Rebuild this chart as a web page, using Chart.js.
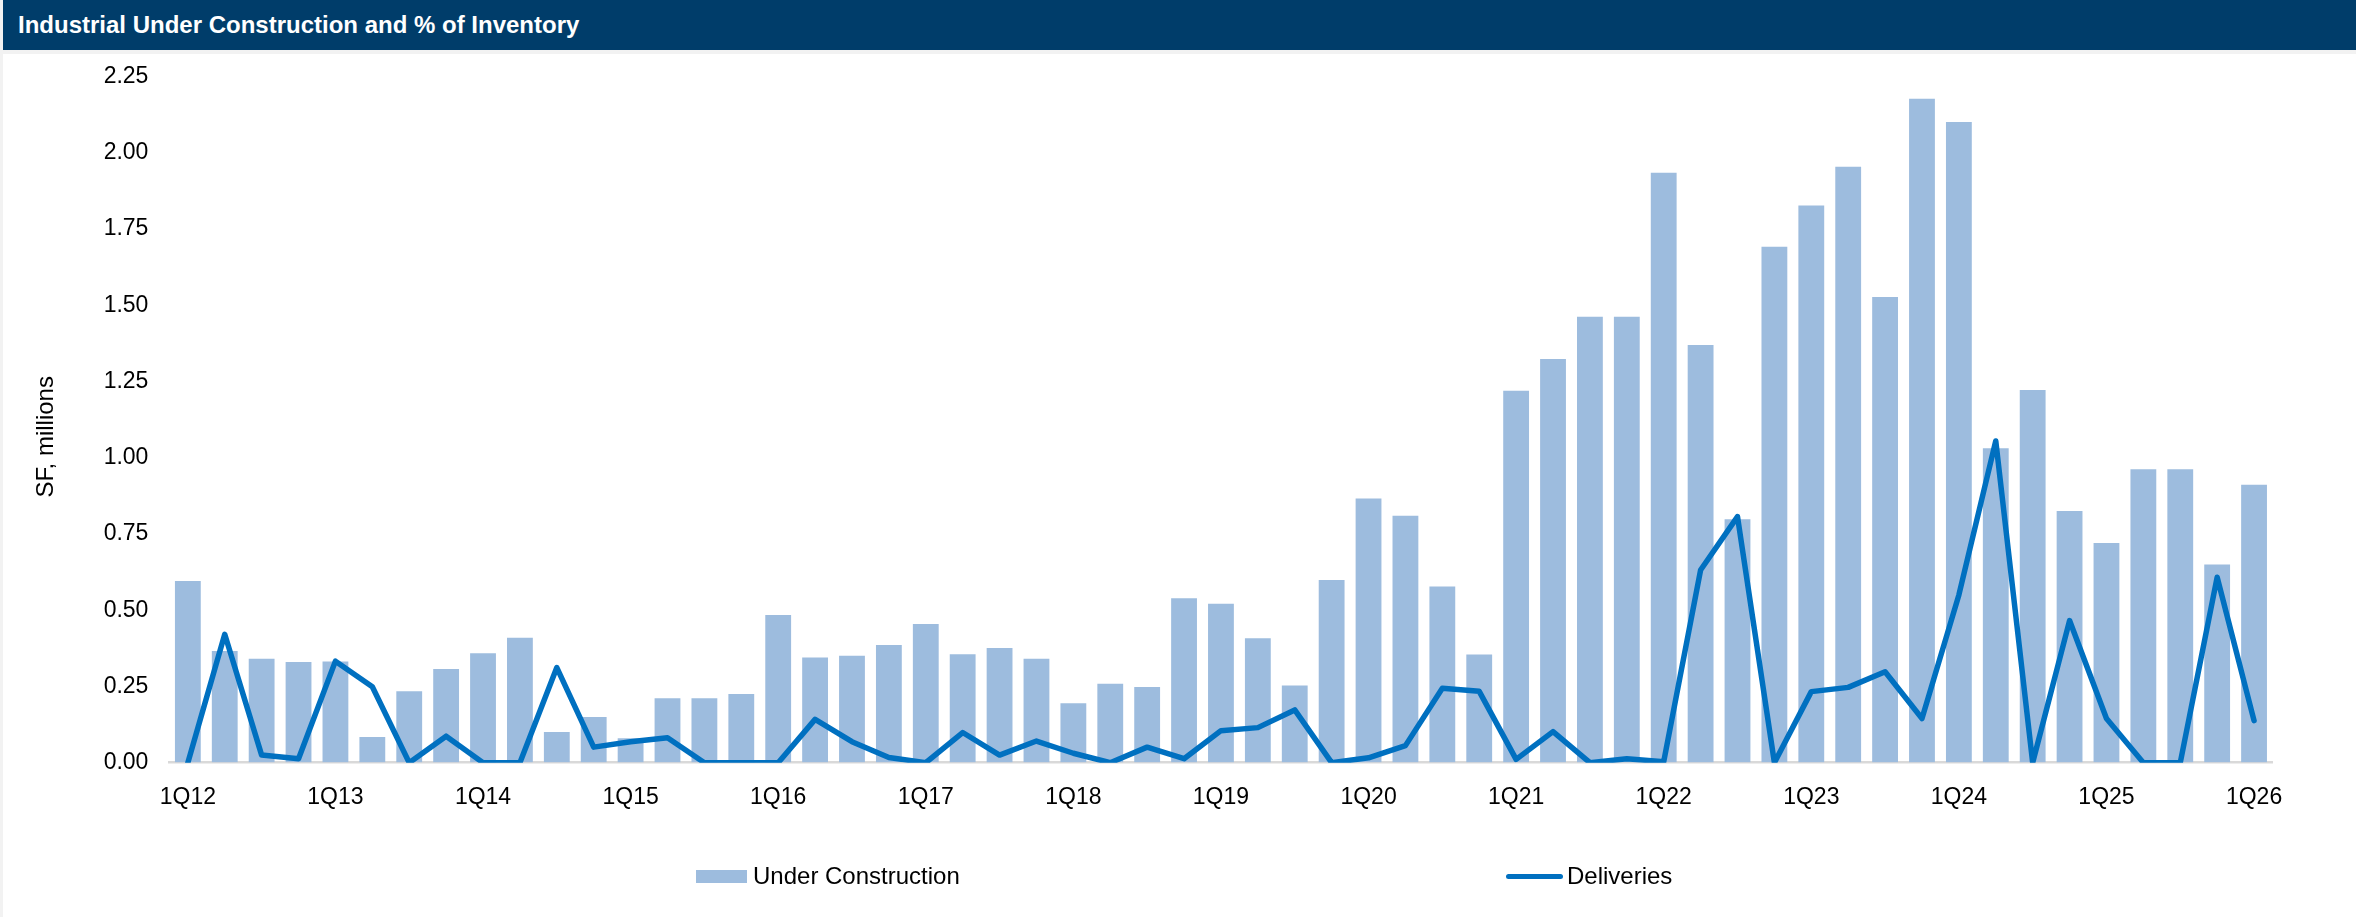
<!DOCTYPE html>
<html>
<head>
<meta charset="utf-8">
<title>Industrial Under Construction</title>
<script src="https://cdn.jsdelivr.net/npm/chart.js@4.4.1/dist/chart.umd.min.js"></script>
<style>
  html, body { margin: 0; padding: 0; }
  body {
    width: 2356px; height: 917px; background: #f2f2f2;
    position: relative; overflow: hidden;
    font-family: "Liberation Sans", Arial, sans-serif;
  }
  #header {
    position: absolute; left: 3px; top: 0; right: 0; height: 50px;
    background: #003d6a; color: #fff;
    font-weight: bold; font-size: 24px; line-height: 50px;
    padding-left: 15px; box-sizing: border-box;
  }
  #panel {
    position: absolute; left: 3px; top: 54px; right: 0; bottom: 0;
    background: #fff;
  }
  #panel canvas { display: block; }
  .lg-item {
    position: absolute; top: 876px; transform: translateY(-50%);
    display: flex; align-items: center;
    font-size: 24px; color: #000; white-space: nowrap;
  }
  .lg-box { width: 51px; height: 13px; margin-right: 6px; }
  .lg-line { width: 57px; height: 5px; border-radius: 3px; margin-right: 4px; }
</style>
</head>
<body>
<div id="header">Industrial Under Construction and % of Inventory</div>
<div id="panel"><canvas id="uc-chart" width="2353" height="863"></canvas></div>
<div id="legend"></div>

<script>
var quarters = [
  '1Q12','2Q12','3Q12','4Q12','1Q13','2Q13','3Q13','4Q13',
  '1Q14','2Q14','3Q14','4Q14','1Q15','2Q15','3Q15','4Q15',
  '1Q16','2Q16','3Q16','4Q16','1Q17','2Q17','3Q17','4Q17',
  '1Q18','2Q18','3Q18','4Q18','1Q19','2Q19','3Q19','4Q19',
  '1Q20','2Q20','3Q20','4Q20','1Q21','2Q21','3Q21','4Q21',
  '1Q22','2Q22','3Q22','4Q22','1Q23','2Q23','3Q23','4Q23',
  '1Q24','2Q24','3Q24','4Q24','1Q25','2Q25','3Q25','4Q25',
  '1Q26'
];

// SF, millions
var underConstruction = [
  0.596, 0.366, 0.341, 0.330, 0.332, 0.084, 0.234, 0.307,
  0.359, 0.410, 0.101, 0.150, 0.080, 0.211, 0.211, 0.225,
  0.484, 0.345, 0.351, 0.386, 0.455, 0.356, 0.376, 0.341,
  0.195, 0.259, 0.248, 0.539, 0.521, 0.408, 0.253, 0.599,
  0.866, 0.810, 0.578, 0.355, 1.220, 1.324, 1.462, 1.462,
  1.934, 1.370, 0.798, 1.692, 1.827, 1.954, 1.527, 2.177,
  2.101, 1.031, 1.222, 0.825, 0.720, 0.962, 0.962, 0.650,
  0.911
];

var deliveries = [
  0.000, 0.421, 0.025, 0.013, 0.333, 0.249, 0.000, 0.087,
  0.000, 0.000, 0.312, 0.051, 0.069, 0.082, 0.000, 0.000,
  0.000, 0.142, 0.069, 0.017, 0.000, 0.099, 0.025, 0.071,
  0.031, 0.000, 0.051, 0.013, 0.105, 0.115, 0.173, 0.000,
  0.016, 0.056, 0.244, 0.234, 0.011, 0.102, 0.000, 0.013,
  0.003, 0.632, 0.807, 0.000, 0.233, 0.247, 0.298, 0.145,
  0.550, 1.055, 0.000, 0.466, 0.145, 0.000, 0.000, 0.608,
  0.138
];

var yTicks = [0, 0.25, 0.5, 0.75, 1, 1.25, 1.5, 1.75, 2, 2.25];
var yTitle = 'SF, millions';

var barColor = '#9dbcde';
var lineColor = '#0070c0';
var tickFont = { family: '"Liberation Sans", Arial, sans-serif', size: 23 };

// rotated axis title, sits a little below the middle of the axis
var axisTitle = {
  id: 'axisTitle',
  afterDraw: function(chart) {
    var ctx = chart.ctx, area = chart.chartArea;
    ctx.save();
    ctx.translate(43, area.top + (area.bottom - area.top) * 0.525);
    ctx.rotate(-Math.PI / 2);
    ctx.font = '24px "Liberation Sans", Arial, sans-serif';
    ctx.fillStyle = '#000';
    ctx.textAlign = 'center';
    ctx.textBaseline = 'middle';
    ctx.fillText(yTitle, 0, 0);
    ctx.restore();
  }
};

var ucConfig = {
  type: 'bar',
  data: {
    labels: quarters,
    datasets: [{
      type: 'line',
      label: 'Deliveries',
      data: deliveries,
      borderColor: lineColor,
      backgroundColor: lineColor,
      borderWidth: 5.5,
      borderJoinStyle: 'round',
      borderCapStyle: 'round',
      pointRadius: 0,
      tension: 0,
      fill: false,
      order: 0
    }, {
      type: 'bar',
      label: 'Under Construction',
      data: underConstruction,
      backgroundColor: barColor,
      barPercentage: 0.7,
      categoryPercentage: 1.0,
      order: 1
    }]
  },
  options: {
    responsive: false,
    animation: false,
    layout: {
      padding: { top: 22.5, right: 83.5, left: 0, bottom: 0 }
    },
    plugins: {
      legend: { display: false },
      tooltip: { enabled: false },
      title: { display: false }
    },
    scales: {
      x: {
        offset: true,
        grid: { display: false, drawTicks: false },
        border: { display: true, color: '#d9d9d9', width: 2.5 },
        ticks: {
          color: '#000',
          font: tickFont,
          padding: 21,
          autoSkip: false,
          maxRotation: 0,
          callback: function(value, index) {
            return index % 4 === 0 ? quarters[index] : '';
          }
        },
        afterFit: function(scale) { scale.height = 154.3; }
      },
      y: {
        min: 0,
        max: 2.25,
        // invisible tick marks give the gap between labels and plot
        grid: {
          display: true,
          drawOnChartArea: false,
          drawTicks: true,
          tickLength: 21,
          color: 'rgba(0,0,0,0)'
        },
        border: { display: false },
        afterBuildTicks: function(scale) {
          scale.ticks = yTicks.map(function(v) { return { value: v }; });
        },
        ticks: {
          color: '#000',
          font: tickFont,
          padding: 0,
          callback: function(value) { return value.toFixed(2); }
        },
        afterFit: function(scale) { scale.width = 166.4; }
      }
    }
  },
  plugins: [axisTitle]
};

var ucCanvas = document.getElementById('uc-chart').getContext('2d');
var ucChart = new Chart(ucCanvas, ucConfig);

// legend below the plot, items spread apart
var legendSpots = { 'Under Construction': 696, 'Deliveries': 1506 };
var legendBox = document.getElementById('legend');
['Under Construction', 'Deliveries'].forEach(function(name) {
  var ds = ucChart.data.datasets.filter(function(d) { return d.label === name; })[0];
  var item = document.createElement('div');
  item.className = 'lg-item';
  item.style.left = legendSpots[name] + 'px';
  var mark = document.createElement('span');
  if (ds.type === 'line') {
    mark.className = 'lg-line';
    mark.style.background = ds.borderColor;
  } else {
    mark.className = 'lg-box';
    mark.style.background = ds.backgroundColor;
  }
  var txt = document.createElement('span');
  txt.textContent = ds.label;
  item.appendChild(mark);
  item.appendChild(txt);
  legendBox.appendChild(item);
});
</script>
</body>
</html>
